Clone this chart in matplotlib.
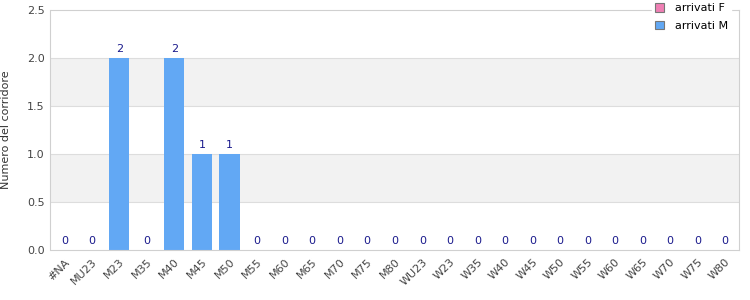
import matplotlib
matplotlib.use("Agg")
import matplotlib.pyplot as plt
import numpy as np

categories = ["#NA", "MU23", "M23", "M35", "M40", "M45", "M50", "M55", "M60", "M65",
              "M70", "M75", "M80", "WU23", "W23", "W35", "W40", "W45", "W50", "W55",
              "W60", "W65", "W70", "W75", "W80"]
arrivati_M = [0, 0, 2, 0, 2, 1, 1, 0, 0, 0, 0, 0, 0, 0, 0, 0, 0, 0, 0, 0, 0, 0, 0, 0, 0]
arrivati_F = [0] * len(categories)

fig = plt.figure(figsize=(7.5, 3.0), dpi=100)
ax = fig.add_axes([50.5 / 750, 50 / 300, (739 - 50.5) / 750, 240 / 300])

x = np.arange(len(categories))
ax.set_xlim(-0.5, len(categories) - 0.5)
ax.set_ylim(0, 2.5)

# alternating bands and grid
for lo in (0.5, 1.5):
    ax.axhspan(lo, lo + 0.5, color="#f2f2f2", zorder=0, lw=0)
for yv in np.arange(0.5, 2.5, 0.5):
    ax.axhline(yv, color="#dddddd", lw=0.8, zorder=0.5)

ax.bar(x, arrivati_F, width=0.73, color="#ef7fb4", zorder=2, label="arrivati F")
ax.bar(x, arrivati_M, width=0.73, color="#62a8f4", zorder=2, label="arrivati M")
for xi, v in zip(x, arrivati_M):
    ax.text(xi, v + 0.04, str(v), ha="center", va="bottom", fontsize=8,
            color="#1a1a8c", zorder=3)

for s in ax.spines.values():
    s.set_color("#d0d0d0")
    s.set_linewidth(0.8)

ax.set_yticks(np.arange(0, 2.51, 0.5))
ax.set_yticklabels([f"{v:.1f}" for v in np.arange(0, 2.51, 0.5)])
ax.set_xticks(x)
ax.set_xticklabels(categories, rotation=45, ha="right", rotation_mode="anchor")
ax.tick_params(axis="both", length=0, labelsize=8, colors="#444444", pad=4)
ax.tick_params(axis="x", pad=5)
ax.set_ylabel("Numero del corridore", fontsize=8, color="#333333", labelpad=12)

leg = ax.legend(loc="upper right", bbox_to_anchor=(0.997, 1.065), fontsize=8,
                frameon=True, fancybox=False, handlelength=0.8, handleheight=0.8,
                handletextpad=1.0, borderpad=0.3, labelspacing=0.65)
leg.get_frame().set_edgecolor("white")
leg.get_frame().set_facecolor("white")
leg.get_frame().set_alpha(1.0)
for h in leg.legend_handles:
    h.set_edgecolor("#777777")
    h.set_linewidth(0.8)
leg.set_zorder(5)

fig.savefig("out.png", dpi=100)
